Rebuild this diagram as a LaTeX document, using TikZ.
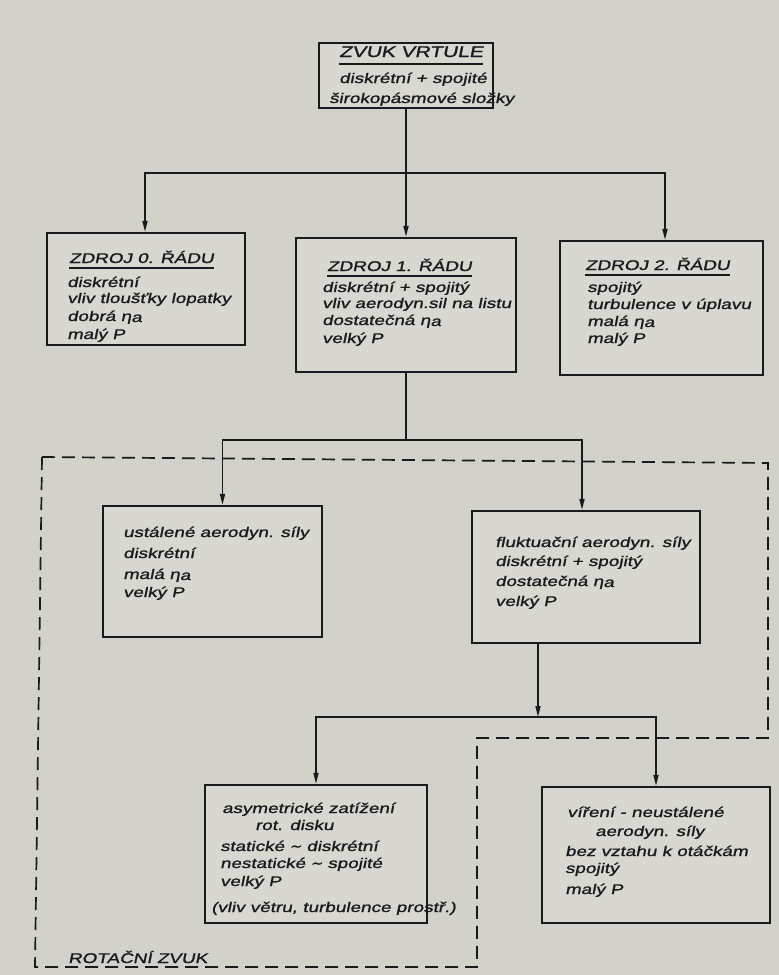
\documentclass[tikz,border=0pt]{standalone}
\usepackage{fontspec}
\newfontfamily\hand[FakeSlant=0.2,FakeStretch=1.35,FakeBold=1.3]{Liberation Sans}
\newfontfamily\symf[FakeSlant=0.2,FakeBold=1.3]{DejaVu Sans}
\usetikzlibrary{arrows.meta,calc}
\definecolor{paper}{RGB}{210,209,202}
\definecolor{boxfill}{RGB}{216,215,208}
\definecolor{ink}{RGB}{26,26,28}
\newcommand\etaa{η\raisebox{-1pt}{a}}
\newcommand\tld{{\symf ∼}}
\begin{document}
\begin{tikzpicture}[x=1pt,y=-1pt,
  box/.style={draw=ink, line width=2.3pt, fill=boxfill, inner sep=0pt},
  txt/.style={anchor=base west, inner sep=0pt, text=ink, font=\hand\fontsize{14}{17}\selectfont},
  conn/.style={draw=ink, line width=1.6pt},
  arr/.style={conn, -{Triangle[length=11pt,width=5pt]}},
  ul/.style={draw=ink, line width=1.3pt},
  bnd/.style={draw=ink, line width=1.7pt, dash pattern=on 13pt off 7pt}]
\fill[paper] (0,0) rectangle (779,975);
\useasboundingbox (0,0) rectangle (779,975);

% boxes
\node[box, minimum width=174pt, minimum height=65pt] (T) at (406,75.5) {};
\node[box, minimum width=198pt, minimum height=112pt] (Z0) at (146,289) {};
\node[box, minimum width=220pt, minimum height=134pt] (Z1) at (406,305) {};
\node[box, minimum width=203pt, minimum height=134pt] (Z2) at (661.5,308) {};
\node[box, minimum width=219pt, minimum height=131pt] (U) at (212.5,571.5) {};
\node[box, minimum width=228pt, minimum height=132pt] (F) at (586,577) {};
\node[box, minimum width=222pt, minimum height=138pt] (A) at (316,854) {};
\node[box, minimum width=228pt, minimum height=136pt] (V) at (656,855) {};

% top box text
\node[txt, font=\hand\fontsize{15.5}{18}\selectfont] (Tt) at (339,57) {ZVUK VRTULE};
\draw[ul] ([yshift=-7pt]Tt.base west) -- ([yshift=-7pt]Tt.base east);
\node[txt] (T1) at (339,83) {diskrétní + spojité};
\node[txt] (T2) at (329,103) {širokopásmové složky};

% Z0
\node[txt] (Z0t) at (69,263) {ZDROJ 0. ŘÁDU};
\draw[ul] ([yshift=-5pt]Z0t.base west) -- ([yshift=-5pt]Z0t.base east);
\node[txt] (Z01) at (67,287) {diskrétní};
\node[txt] (Z02) at (67,303) {vliv tloušťky lopatky};
\node[txt] (Z03) at (67,321) {dobrá \etaa};
\node[txt] (Z04) at (67,339) {malý P};

% Z1
\node[txt] (Z1t) at (327,271) {ZDROJ 1. ŘÁDU};
\draw[ul] ([yshift=-5pt]Z1t.base west) -- ([yshift=-5pt]Z1t.base east);
\node[txt] (Z11) at (322,292) {diskrétní + spojitý};
\node[txt] (Z12) at (322,308) {vliv aerodyn.sil na listu};
\node[txt] (Z13) at (322,325) {dostatečná \etaa};
\node[txt] (Z14) at (322,343) {velký P};

% Z2
\node[txt] (Z2t) at (585,270) {ZDROJ 2. ŘÁDU};
\draw[ul] ([yshift=-5pt]Z2t.base west) -- ([yshift=-5pt]Z2t.base east);
\node[txt] (Z21) at (587,292) {spojitý};
\node[txt] (Z22) at (587,309) {turbulence v úplavu};
\node[txt] (Z23) at (587,326) {malá \etaa};
\node[txt] (Z24) at (587,343) {malý P};

% U
\node[txt] (U1) at (123,537) {ustálené aerodyn. síly};
\node[txt] (U2) at (123,558) {diskrétní};
\node[txt] (U3) at (123,579) {malá \etaa};
\node[txt] (U4) at (123,597) {velký P};

% F
\node[txt] (F1) at (495,547) {fluktuační aerodyn. síly};
\node[txt] (F2) at (495,566) {diskrétní + spojitý};
\node[txt] (F3) at (495,586) {dostatečná \etaa};
\node[txt] (F4) at (495,606) {velký P};

% A
\node[txt] (A1) at (222,813) {asymetrické zatížení};
\node[txt] (A2) at (255,830) {rot. disku};
\node[txt] (A3) at (220,851) {statické \tld\ diskrétní};
\node[txt] (A4) at (220,868) {nestatické \tld\ spojité};
\node[txt] (A5) at (220,886) {velký P};
\node[txt] (A6) at (211,912) {(vliv větru, turbulence prostř.)};

% V
\node[txt] (V1) at (567,817) {víření - neustálené};
\node[txt] (V2) at (595,836) {aerodyn. síly};
\node[txt] (V3) at (565,856) {bez vztahu k otáčkám};
\node[txt] (V4) at (565,873) {spojitý};
\node[txt] (V5) at (565,894) {malý P};

% label
\node[txt] (R) at (68,963) {ROTAČNÍ ZVUK};

% connectors
\coordinate (j1) at (406,173);
\draw[conn] (T.south) -- (j1);
\draw[arr] (j1) -- (Z1.north);
\draw[arr] (j1) -| ([xshift=-1pt]Z0.north);
\draw[arr] (j1) -| ([xshift=3.5pt]Z2.north);

\coordinate (j2) at (406,440);
\draw[conn] (Z1.south) -- (j2);
\draw[arr] (j2) -| ([xshift=10pt]U.north);
\draw[arr] (j2) -| ([xshift=-4pt]F.north);

\coordinate (j3) at (538,717);
\draw[arr] ([xshift=-48pt]F.south) -- (j3);
\draw[arr] (j3) -| (A.north);
\draw[arr] (j3) -| (V.north);

% dashed boundary
\draw[bnd] (42,457) -- (768,463) -- (768,738) -- (477,738) -- (477,967) -- (35,967) -- cycle;
\end{tikzpicture}
\end{document}
